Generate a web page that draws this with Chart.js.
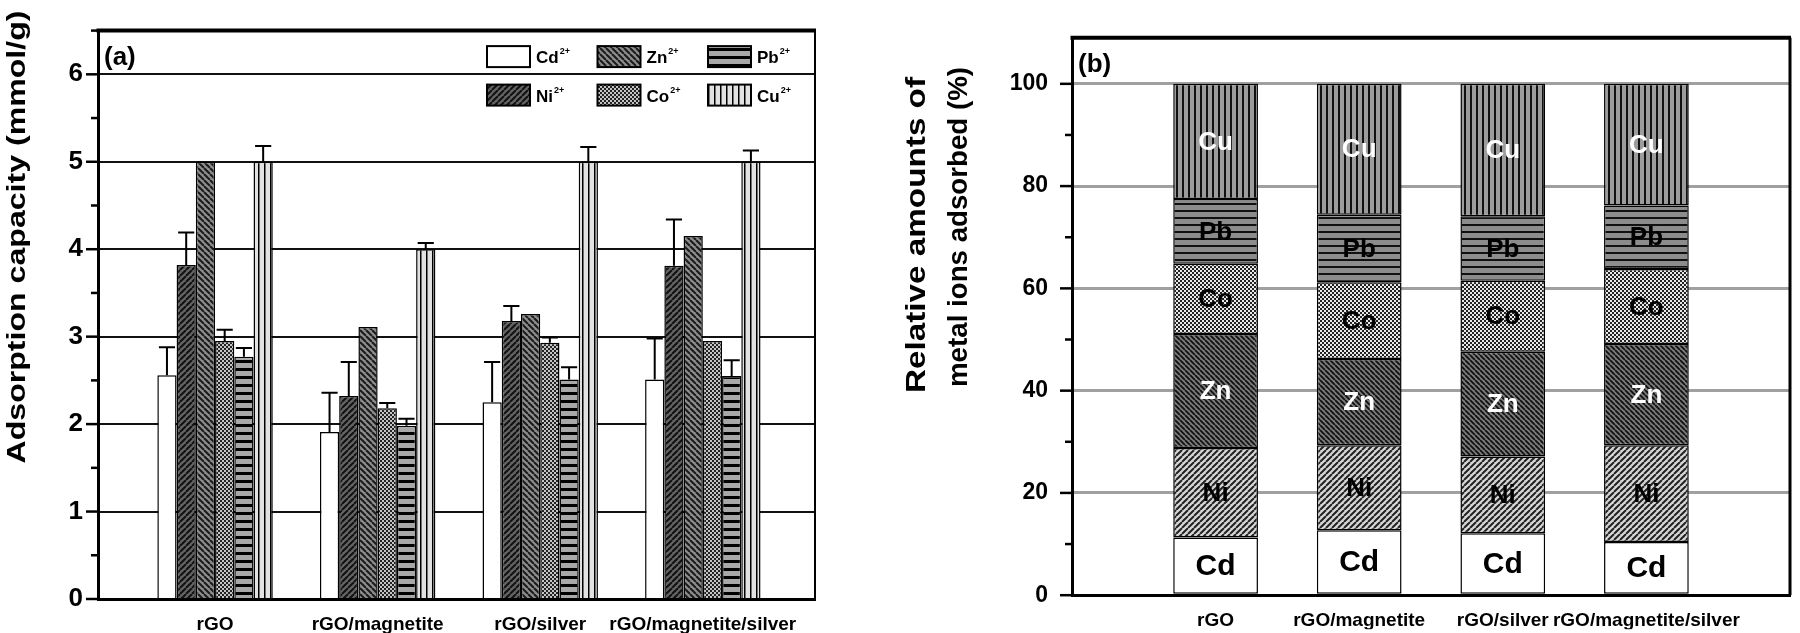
<!DOCTYPE html>
<html>
<head>
<meta charset="utf-8">
<script src="https://cdn.jsdelivr.net/npm/chart.js@4.4.1/dist/chart.umd.min.js"></script>
<style>
  body { margin: 0; background: #fff; }
  .panel { position: absolute; top: 0; width: 900px; height: 633px; }
</style>
</head>
<body>
<div class="panel" style="left:0"><canvas id="capChart"></canvas></div>
<div class="panel" style="left:900px"><canvas id="relChart"></canvas></div>
<script>
const categories = ['rGO', 'rGO/magnetite', 'rGO/silver', 'rGO/magnetite/silver'];
const ions = ['Cd', 'Ni', 'Zn', 'Co', 'Pb', 'Cu'];

// (a) adsorption capacity, mmol/g
const capCd = [2.56, 1.91, 2.25, 2.51];
const capNi = [3.82, 2.32, 3.18, 3.81];
const capZn = [5.00, 3.11, 3.26, 4.15];
const capCo = [2.95, 2.18, 2.93, 2.95];
const capPb = [2.77, 1.98, 2.51, 2.55];
const capCu = [5.00, 4.00, 5.00, 5.00];

// (a) upper error bars
const errCd = [0.32, 0.45, 0.46, 0.47];
const errNi = [0.37, 0.39, 0.17, 0.53];
const errZn = [0, 0, 0, 0];
const errCo = [0.13, 0.06, 0.06, 0];
const errPb = [0.10, 0.08, 0.14, 0.18];
const errCu = [0.18, 0.07, 0.17, 0.13];

// (b) relative amounts adsorbed, %
const relCd = [11.3, 12.7, 12.1, 10.4];
const relNi = [17.5, 16.6, 15.0, 18.9];
const relZn = [22.3, 16.9, 20.5, 19.8];
const relCo = [13.7, 15.0, 13.9, 14.7];
const relPb = [12.7, 13.2, 12.6, 12.4];
const relCu = [22.5, 25.6, 25.9, 23.8];

const capTicks = [0, 1, 2, 3, 4, 5, 6];
const relTicks = [0, 20, 40, 60, 80, 100];

const capSeries = [capCd, capNi, capZn, capCo, capPb, capCu];
const errSeries = [errCd, errNi, errZn, errCo, errPb, errCu];
const relSeries = [relCd, relNi, relZn, relCo, relPb, relCu];

const SANS = "'Liberation Sans', Arial, sans-serif";

// fill patterns
function hatch(bg, line, size, width, draw) {
  const c = document.createElement('canvas');
  c.width = size; c.height = size;
  const g = c.getContext('2d');
  g.fillStyle = bg;
  g.fillRect(0, 0, size, size);
  g.strokeStyle = line;
  g.fillStyle = line;
  g.lineWidth = width;
  draw(g, size);
  return g.createPattern(c, 'repeat');
}
const up = (g, s) => {
  g.beginPath();
  for (let k = -1; k <= 1; k++) { g.moveTo(k * s, s); g.lineTo(k * s + s, 0); }
  g.stroke();
};
const down = (g, s) => {
  g.beginPath();
  for (let k = -1; k <= 1; k++) { g.moveTo(k * s, 0); g.lineTo(k * s + s, s); }
  g.stroke();
};
const horiz = (g, s) => g.fillRect(0, 0, s, g.lineWidth);
const vert = (g, s) => g.fillRect(0, 0, g.lineWidth, s);
const checker = (g, s) => { g.fillRect(0, 0, s / 2, s / 2); g.fillRect(s / 2, s / 2, s / 2, s / 2); };

const fillsA = [
  '#ffffff',
  hatch('#646464', '#111', 6, 2, up),
  hatch('#8c8c8c', '#1a1a1a', 6, 2, down),
  hatch('#c4c4c4', '#222', 4, 1, checker),
  hatch('#a8a8a8', '#000', 8, 3, horiz),
  hatch('#e2e2e2', '#000', 6, 1.5, vert)
];
const fillsB = [
  '#ffffff',
  hatch('#d6d6d6', '#222', 6, 2, up),
  hatch('#7c7c7c', '#111', 5, 1.8, down),
  hatch('#e8e8e8', '#222', 4, 1, checker),
  hatch('#8c8c8c', '#111', 7, 2, horiz),
  hatch('#9c9c9c', '#111', 6, 2, vert)
];
const labelColorsB = ['#000', '#000', '#fff', '#000', '#000', '#fff'];

// rotated text stretched to a given length (the figure is a little stretched)
function sideText(ctx, text, cx, cy, length, font) {
  ctx.save();
  ctx.font = font;
  ctx.fillStyle = '#000';
  ctx.textAlign = 'center';
  ctx.textBaseline = 'middle';
  ctx.translate(cx, cy);
  ctx.rotate(-Math.PI / 2);
  ctx.scale(length / ctx.measureText(text).width, 1);
  ctx.fillText(text, 0, 0);
  ctx.restore();
}

// outward tick marks, long on labelled values, short between
function tickMarks(labelled, step) {
  return {
    id: 'tickMarks',
    afterDraw(chart) {
      const y = chart.scales.y;
      const ctx = chart.ctx;
      const left = chart.chartArea.left;
      ctx.save();
      ctx.strokeStyle = '#000';
      ctx.lineWidth = 2.5;
      y.ticks.forEach(t => {
        if (Math.abs(t.value / step - Math.round(t.value / step)) > 1e-6) return;
        const len = labelled.includes(t.value) ? 12 : 7;
        const py = y.getPixelForValue(t.value);
        ctx.beginPath();
        ctx.moveTo(left - len, py);
        ctx.lineTo(left, py);
        ctx.stroke();
      });
      ctx.restore();
    }
  };
}

// top and right edges of the frame, panel tag and y title
function frame(tag, rightWidth, titles) {
  return {
    id: 'frame',
    afterDraw(chart) {
      const { ctx, chartArea: a } = chart;
      ctx.save();
      ctx.strokeStyle = '#000';
      ctx.lineWidth = 4;
      ctx.beginPath();
      ctx.moveTo(a.left - 1.5, a.top);
      ctx.lineTo(a.right + 1, a.top);
      ctx.stroke();
      ctx.lineWidth = rightWidth;
      ctx.beginPath();
      ctx.moveTo(a.right, a.top);
      ctx.lineTo(a.right, a.bottom);
      ctx.stroke();
      ctx.fillStyle = '#000';
      ctx.font = 'bold 26px ' + SANS;
      ctx.textBaseline = 'middle';
      ctx.fillText(tag, a.left + 6, a.top + 27);
      ctx.restore();
      titles.forEach(t => sideText(ctx, t.text, t.x, t.y, t.len, t.font));
    }
  };
}

const errorBars = {
  id: 'errorBars',
  afterDatasetsDraw(chart) {
    const { ctx } = chart;
    const y = chart.scales.y;
    ctx.save();
    ctx.strokeStyle = '#000';
    ctx.lineWidth = 2;
    chart.data.datasets.forEach((ds, i) => {
      chart.getDatasetMeta(i).data.forEach((bar, j) => {
        const e = errSeries[i][j];
        if (!e) return;
        const top = y.getPixelForValue(capSeries[i][j] + e);
        const half = bar.width * 0.42;
        ctx.beginPath();
        ctx.moveTo(bar.x, bar.y);
        ctx.lineTo(bar.x, top);
        ctx.moveTo(bar.x - half, top);
        ctx.lineTo(bar.x + half, top);
        ctx.stroke();
      });
    });
    ctx.restore();
  }
};

const capLegend = {
  id: 'capLegend',
  afterDraw(chart) {
    const { ctx, chartArea: a } = chart;
    ctx.save();
    chart.data.datasets.forEach((ds, i) => {
      const col = Math.floor(i / 2), row = i % 2;
      const x = a.right - 328 + col * 110.5;
      const y = a.top + 26 + row * 38.5;
      ctx.fillStyle = ds.backgroundColor;
      ctx.fillRect(x, y - 10.5, 43, 21);
      ctx.strokeStyle = '#000';
      ctx.lineWidth = 2;
      ctx.strokeRect(x, y - 10.5, 43, 21);
      ctx.fillStyle = '#000';
      ctx.textBaseline = 'middle';
      ctx.font = 'bold 17px ' + SANS;
      ctx.fillText(ds.label, x + 49, y + 2);
      const w = ctx.measureText(ds.label).width;
      ctx.font = 'bold 9px ' + SANS;
      ctx.fillText('2+', x + 50 + w, y - 5);
    });
    ctx.restore();
  }
};

const segmentLabels = {
  id: 'segmentLabels',
  afterDatasetsDraw(chart) {
    const { ctx } = chart;
    ctx.save();
    ctx.textAlign = 'center';
    ctx.textBaseline = 'middle';
    chart.data.datasets.forEach((ds, i) => {
      ctx.fillStyle = labelColorsB[i];
      ctx.font = (i === 0 ? 'bold 30px ' : 'bold 26px ') + SANS;
      chart.getDatasetMeta(i).data.forEach(bar => {
        ctx.fillText(ds.label, bar.x, (bar.y + bar.base) / 2 + 1);
      });
    });
    ctx.restore();
  }
};

const categoryAxis = (min, max) => ({
  type: 'linear',
  offset: false,
  min: min,
  max: max,
  afterBuildTicks: s => { s.ticks = categories.map((c, i) => ({ value: i })); },
  afterFit: s => { s.height = 34; },
  grid: { display: false },
  border: { display: true, width: 3, color: '#000' },
  ticks: {
    callback: v => categories[v],
    font: { family: SANS, size: 19, weight: 'bold' },
    padding: 6,
    maxRotation: 0,
    autoSkip: false
  }
});

Chart.defaults.color = '#000';
Chart.defaults.animation = false;

// (a) grouped bars with error bars
new Chart(document.getElementById('capChart'), {
  type: 'bar',
  data: {
    datasets: ions.map((ion, i) => ({
      label: ion,
      data: capSeries[i].map((v, j) => ({ x: j, y: v })),
      backgroundColor: fillsA[i],
      borderColor: '#000',
      borderWidth: 1.5,
      borderSkipped: 'bottom'
    }))
  },
  options: {
    responsive: true,
    maintainAspectRatio: false,
    categoryPercentage: 0.71,
    barPercentage: 1,
    layout: { padding: { top: 6, right: 85, left: 0, bottom: 0 } },
    plugins: { legend: { display: false }, tooltip: { enabled: false } },
    scales: {
      x: categoryAxis(-0.72, 3.69),
      y: {
        min: 0,
        max: 6.5,
        afterFit: s => { s.width = 98; },
        border: { display: true, width: 3, color: '#000' },
        grid: {
          drawTicks: false,
          lineWidth: 2,
          color: c => (capTicks.includes(c.tick.value) && c.tick.value > 0) ? '#111' : 'rgba(0,0,0,0)'
        },
        ticks: {
          stepSize: 0.5,
          includeBounds: false,
          padding: 15,
          font: { family: SANS, size: 26, weight: 'bold' },
          callback: v => capTicks.includes(v) ? String(v) : ''
        }
      }
    }
  },
  plugins: [errorBars, capLegend, tickMarks(capTicks, 0.5),
    frame('(a)', 2, [{ text: 'Adsorption capacity (mmol/g)', x: 18, y: 237, len: 453, font: 'bold 25px ' + SANS }])]
});

// (b) stacked relative amounts
new Chart(document.getElementById('relChart'), {
  type: 'bar',
  data: {
    datasets: ions.map((ion, i) => ({
      label: ion,
      data: relSeries[i].map((v, j) => ({ x: j, y: v })),
      backgroundColor: fillsB[i],
      borderColor: '#000',
      borderWidth: 1.5,
      borderSkipped: false
    }))
  },
  options: {
    responsive: true,
    maintainAspectRatio: false,
    categoryPercentage: 1,
    barPercentage: 0.59,
    layout: { padding: { top: 6, right: 10, left: 0, bottom: 0 } },
    plugins: { legend: { display: false }, tooltip: { enabled: false } },
    scales: {
      x: Object.assign(categoryAxis(-1, categories.length), { stacked: true }),
      y: {
        stacked: true,
        min: 0,
        max: 109,
        afterFit: s => { s.width = 172; },
        border: { display: true, width: 3, color: '#000' },
        grid: {
          drawTicks: false,
          lineWidth: 3,
          color: c => (relTicks.includes(c.tick.value) && c.tick.value > 0) ? '#a0a0a0' : 'rgba(0,0,0,0)'
        },
        ticks: {
          stepSize: 10,
          includeBounds: false,
          padding: 24,
          font: { family: SANS, size: 23, weight: 'bold' },
          callback: v => relTicks.includes(v) ? String(v) : ''
        }
      }
    }
  },
  plugins: [segmentLabels, tickMarks(relTicks, 10),
    frame('(b)', 3, [
      { text: 'Relative amounts of', x: 18, y: 235, len: 316, font: 'bold 27px ' + SANS },
      { text: 'metal ions adsorbed (%)', x: 60, y: 227, len: 320, font: 'bold 27px ' + SANS }
    ])]
});
</script>
</body>
</html>
